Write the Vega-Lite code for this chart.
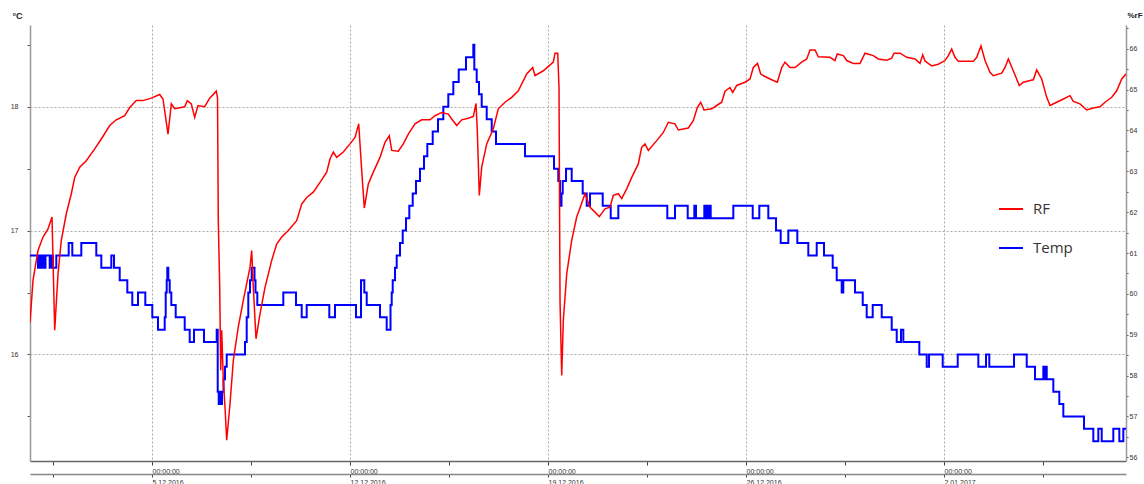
{
"$schema": "https://vega.github.io/schema/vega-lite/v6.json",
"width": 1096, "height": 436,
"autosize": {"type": "none"},
"padding": {"left": 30, "top": 25, "right": 18, "bottom": 23},
"background": "white",
"config": {"view": {"stroke": null}, "font": "Liberation Sans"},
"datasets": {
"temp": [
{"t":"2016-11-30T16:30:00Z","v":16.8},{"t":"2016-11-30T23:16:00Z","v":16.7},{"t":"2016-12-01T00:58:00Z","v":16.8},{"t":"2016-12-01T01:49:00Z","v":16.7},{"t":"2016-12-01T03:31:00Z","v":16.8},{"t":"2016-12-01T04:22:00Z","v":16.7},{"t":"2016-12-01T05:38:00Z","v":16.8},{"t":"2016-12-01T09:12:00Z","v":16.7},{"t":"2016-12-01T10:34:00Z","v":16.8},{"t":"2016-12-01T12:00:00Z","v":16.7},{"t":"2016-12-01T14:48:00Z","v":16.8},{"t":"2016-12-02T01:19:00Z","v":16.9},{"t":"2016-12-02T04:23:00Z","v":16.8},{"t":"2016-12-02T12:01:00Z","v":16.9},{"t":"2016-12-03T00:44:00Z","v":16.8},{"t":"2016-12-03T04:59:00Z","v":16.7},{"t":"2016-12-03T13:28:00Z","v":16.8},{"t":"2016-12-03T15:46:00Z","v":16.7},{"t":"2016-12-03T20:36:00Z","v":16.6},{"t":"2016-12-04T03:03:00Z","v":16.5},{"t":"2016-12-04T07:17:00Z","v":16.4},{"t":"2016-12-04T12:07:00Z","v":16.5},{"t":"2016-12-04T18:19:00Z","v":16.4},{"t":"2016-12-05T00:15:00Z","v":16.3},{"t":"2016-12-05T05:05:00Z","v":16.2},{"t":"2016-12-05T10:46:00Z","v":16.3},{"t":"2016-12-05T11:37:00Z","v":16.5},{"t":"2016-12-05T12:28:00Z","v":16.6},{"t":"2016-12-05T12:59:00Z","v":16.7},{"t":"2016-12-05T13:50:00Z","v":16.6},{"t":"2016-12-05T15:01:00Z","v":16.5},{"t":"2016-12-05T16:23:00Z","v":16.4},{"t":"2016-12-05T20:06:00Z","v":16.3},{"t":"2016-12-06T03:45:00Z","v":16.2},{"t":"2016-12-06T07:59:00Z","v":16.1},{"t":"2016-12-06T11:38:00Z","v":16.2},{"t":"2016-12-06T20:07:00Z","v":16.1},{"t":"2016-12-07T06:54:00Z","v":16.2},{"t":"2016-12-07T07:45:00Z","v":15.7},{"t":"2016-12-07T08:36:00Z","v":15.6},{"t":"2016-12-07T09:42:00Z","v":15.7},{"t":"2016-12-07T10:33:00Z","v":15.6},{"t":"2016-12-07T11:24:00Z","v":15.7},{"t":"2016-12-07T12:40:00Z","v":15.8},{"t":"2016-12-07T13:56:00Z","v":15.9},{"t":"2016-12-07T15:23:00Z","v":16.0},{"t":"2016-12-08T06:54:00Z","v":16.1},{"t":"2016-12-08T08:21:00Z","v":16.3},{"t":"2016-12-08T09:42:00Z","v":16.5},{"t":"2016-12-08T11:09:00Z","v":16.6},{"t":"2016-12-08T12:36:00Z","v":16.7},{"t":"2016-12-08T14:58:00Z","v":16.6},{"t":"2016-12-08T15:49:00Z","v":16.5},{"t":"2016-12-08T17:21:00Z","v":16.4},{"t":"2016-12-09T15:24:00Z","v":16.5},{"t":"2016-12-10T02:11:00Z","v":16.4},{"t":"2016-12-10T07:01:00Z","v":16.3},{"t":"2016-12-10T11:15:00Z","v":16.4},{"t":"2016-12-11T06:26:00Z","v":16.3},{"t":"2016-12-11T11:16:00Z","v":16.4},{"t":"2016-12-12T05:05:00Z","v":16.3},{"t":"2016-12-12T09:20:00Z","v":16.6},{"t":"2016-12-12T12:08:00Z","v":16.5},{"t":"2016-12-12T14:10:00Z","v":16.4},{"t":"2016-12-13T01:27:00Z","v":16.3},{"t":"2016-12-13T07:08:00Z","v":16.2},{"t":"2016-12-13T10:22:00Z","v":16.4},{"t":"2016-12-13T11:23:00Z","v":16.5},{"t":"2016-12-13T12:14:00Z","v":16.6},{"t":"2016-12-13T14:11:00Z","v":16.7},{"t":"2016-12-13T15:37:00Z","v":16.8},{"t":"2016-12-13T18:25:00Z","v":16.9},{"t":"2016-12-13T20:43:00Z","v":17.0},{"t":"2016-12-13T23:31:00Z","v":17.1},{"t":"2016-12-14T02:19:00Z","v":17.2},{"t":"2016-12-14T05:12:00Z","v":17.3},{"t":"2016-12-14T08:00:00Z","v":17.4},{"t":"2016-12-14T11:23:00Z","v":17.5},{"t":"2016-12-14T14:47:00Z","v":17.6},{"t":"2016-12-14T17:35:00Z","v":17.7},{"t":"2016-12-14T22:10:00Z","v":17.8},{"t":"2016-12-15T02:40:00Z","v":17.9},{"t":"2016-12-15T07:10:00Z","v":18.0},{"t":"2016-12-15T11:24:00Z","v":18.1},{"t":"2016-12-15T15:39:00Z","v":18.2},{"t":"2016-12-15T20:14:00Z","v":18.3},{"t":"2016-12-16T02:25:00Z","v":18.4},{"t":"2016-12-16T08:37:00Z","v":18.5},{"t":"2016-12-16T09:28:00Z","v":18.3},{"t":"2016-12-16T11:30:00Z","v":18.2},{"t":"2016-12-16T13:27:00Z","v":18.1},{"t":"2016-12-16T15:44:00Z","v":18.0},{"t":"2016-12-16T19:59:00Z","v":17.9},{"t":"2016-12-17T00:14:00Z","v":17.8},{"t":"2016-12-17T03:52:00Z","v":17.7},{"t":"2016-12-18T04:29:00Z","v":17.6},{"t":"2016-12-19T05:05:00Z","v":17.5},{"t":"2016-12-19T08:44:00Z","v":17.4},{"t":"2016-12-19T10:11:00Z","v":17.2},{"t":"2016-12-19T11:27:00Z","v":17.3},{"t":"2016-12-19T12:28:00Z","v":17.4},{"t":"2016-12-19T15:16:00Z","v":17.5},{"t":"2016-12-19T20:06:00Z","v":17.4},{"t":"2016-12-20T05:26:00Z","v":17.3},{"t":"2016-12-20T08:50:00Z","v":17.2},{"t":"2016-12-20T11:38:00Z","v":17.3},{"t":"2016-12-20T22:24:00Z","v":17.2},{"t":"2016-12-21T05:12:00Z","v":17.1},{"t":"2016-12-21T11:39:00Z","v":17.2},{"t":"2016-12-23T05:13:00Z","v":17.1},{"t":"2016-12-23T11:45:00Z","v":17.2},{"t":"2016-12-23T22:32:00Z","v":17.1},{"t":"2016-12-24T04:08:00Z","v":17.2},{"t":"2016-12-24T05:34:00Z","v":17.1},{"t":"2016-12-24T12:37:00Z","v":17.2},{"t":"2016-12-24T13:38:00Z","v":17.1},{"t":"2016-12-24T14:29:00Z","v":17.2},{"t":"2016-12-24T15:45:00Z","v":17.1},{"t":"2016-12-24T16:36:00Z","v":17.2},{"t":"2016-12-24T18:02:00Z","v":17.1},{"t":"2016-12-25T13:13:00Z","v":17.2},{"t":"2016-12-26T05:41:00Z","v":17.1},{"t":"2016-12-26T11:17:00Z","v":17.2},{"t":"2016-12-26T18:55:00Z","v":17.1},{"t":"2016-12-27T01:27:00Z","v":17.0},{"t":"2016-12-27T05:26:00Z","v":16.9},{"t":"2016-12-27T11:53:00Z","v":17.0},{"t":"2016-12-27T19:31:00Z","v":16.9},{"t":"2016-12-28T04:51:00Z","v":16.8},{"t":"2016-12-28T11:59:00Z","v":16.9},{"t":"2016-12-28T18:10:00Z","v":16.8},{"t":"2016-12-29T01:33:00Z","v":16.7},{"t":"2016-12-29T04:57:00Z","v":16.6},{"t":"2016-12-29T09:11:00Z","v":16.5},{"t":"2016-12-29T10:33:00Z","v":16.6},{"t":"2016-12-29T20:29:00Z","v":16.5},{"t":"2016-12-30T03:01:00Z","v":16.4},{"t":"2016-12-30T06:24:00Z","v":16.3},{"t":"2016-12-30T11:30:00Z","v":16.4},{"t":"2016-12-30T19:08:00Z","v":16.3},{"t":"2016-12-31T03:37:00Z","v":16.2},{"t":"2016-12-31T07:52:00Z","v":16.1},{"t":"2016-12-31T11:30:00Z","v":16.2},{"t":"2016-12-31T13:28:00Z","v":16.1},{"t":"2017-01-01T03:02:00Z","v":16.0},{"t":"2017-01-01T09:19:00Z","v":15.9},{"t":"2017-01-01T11:16:00Z","v":16.0},{"t":"2017-01-01T22:53:00Z","v":15.9},{"t":"2017-01-02T11:37:00Z","v":16.0},{"t":"2017-01-03T05:06:00Z","v":15.9},{"t":"2017-01-03T11:38:00Z","v":16.0},{"t":"2017-01-03T14:25:00Z","v":15.9},{"t":"2017-01-04T11:23:00Z","v":16.0},{"t":"2017-01-04T22:10:00Z","v":15.9},{"t":"2017-01-05T05:12:00Z","v":15.8},{"t":"2017-01-05T12:15:00Z","v":15.9},{"t":"2017-01-05T13:16:00Z","v":15.8},{"t":"2017-01-05T14:07:00Z","v":15.9},{"t":"2017-01-05T15:08:00Z","v":15.8},{"t":"2017-01-05T20:44:00Z","v":15.7},{"t":"2017-01-06T01:49:00Z","v":15.6},{"t":"2017-01-06T05:13:00Z","v":15.5},{"t":"2017-01-06T22:47:00Z","v":15.4},{"t":"2017-01-07T06:40:00Z","v":15.3},{"t":"2017-01-07T10:55:00Z","v":15.4},{"t":"2017-01-07T13:48:00Z","v":15.3},{"t":"2017-01-07T23:38:00Z","v":15.4},{"t":"2017-01-08T04:44:00Z","v":15.3},{"t":"2017-01-08T08:07:00Z","v":15.4},{"t":"2017-01-08T10:24:00Z","v":15.4}
],
"rf": [
{"t":"2016-11-30T16:30:00Z","v":59.3},{"t":"2016-11-30T19:02:00Z","v":60.33},{"t":"2016-11-30T23:16:00Z","v":61.06},{"t":"2016-12-01T03:31:00Z","v":61.39},{"t":"2016-12-01T07:46:00Z","v":61.59},{"t":"2016-12-01T11:09:00Z","v":61.88},{"t":"2016-12-01T13:27:00Z","v":59.11},{"t":"2016-12-01T16:15:00Z","v":60.49},{"t":"2016-12-01T19:02:00Z","v":61.31},{"t":"2016-12-01T23:17:00Z","v":61.96},{"t":"2016-12-02T03:32:00Z","v":62.45},{"t":"2016-12-02T06:25:00Z","v":62.85},{"t":"2016-12-02T10:39:00Z","v":63.1},{"t":"2016-12-02T16:15:00Z","v":63.26},{"t":"2016-12-02T23:23:00Z","v":63.55},{"t":"2016-12-03T04:59:00Z","v":63.79},{"t":"2016-12-03T12:07:00Z","v":64.12},{"t":"2016-12-03T17:42:00Z","v":64.26},{"t":"2016-12-04T00:50:00Z","v":64.36},{"t":"2016-12-04T05:05:00Z","v":64.56},{"t":"2016-12-04T10:41:00Z","v":64.73},{"t":"2016-12-04T16:22:00Z","v":64.73},{"t":"2016-12-04T23:24:00Z","v":64.79},{"t":"2016-12-05T06:32:00Z","v":64.88},{"t":"2016-12-05T09:20:00Z","v":64.77},{"t":"2016-12-05T13:34:00Z","v":63.91},{"t":"2016-12-05T16:23:00Z","v":64.65},{"t":"2016-12-05T19:16:00Z","v":64.53},{"t":"2016-12-06T03:45:00Z","v":64.58},{"t":"2016-12-06T05:57:00Z","v":64.73},{"t":"2016-12-06T09:21:00Z","v":64.65},{"t":"2016-12-06T12:14:00Z","v":64.32},{"t":"2016-12-06T15:02:00Z","v":64.61},{"t":"2016-12-06T20:43:00Z","v":64.58},{"t":"2016-12-07T00:57:00Z","v":64.79},{"t":"2016-12-07T06:33:00Z","v":64.96},{"t":"2016-12-07T07:35:00Z","v":64.8},{"t":"2016-12-07T08:15:00Z","v":61.79},{"t":"2016-12-07T09:27:00Z","v":60.16},{"t":"2016-12-07T10:17:00Z","v":58.13},{"t":"2016-12-07T11:08:00Z","v":59.11},{"t":"2016-12-07T12:30:00Z","v":57.88},{"t":"2016-12-07T13:56:00Z","v":57.23},{"t":"2016-12-07T15:23:00Z","v":56.42},{"t":"2016-12-07T18:11:00Z","v":57.31},{"t":"2016-12-07T20:59:00Z","v":58.37},{"t":"2016-12-08T01:13:00Z","v":59.19},{"t":"2016-12-08T05:28:00Z","v":59.84},{"t":"2016-12-08T08:21:00Z","v":60.25},{"t":"2016-12-08T11:09:00Z","v":60.65},{"t":"2016-12-08T12:36:00Z","v":61.06},{"t":"2016-12-08T13:57:00Z","v":60.16},{"t":"2016-12-08T16:15:00Z","v":58.9},{"t":"2016-12-08T19:38:00Z","v":59.51},{"t":"2016-12-08T23:53:00Z","v":60.16},{"t":"2016-12-09T05:34:00Z","v":60.82},{"t":"2016-12-09T09:48:00Z","v":61.22},{"t":"2016-12-09T14:03:00Z","v":61.39},{"t":"2016-12-09T19:39:00Z","v":61.55},{"t":"2016-12-10T02:46:00Z","v":61.79},{"t":"2016-12-10T07:01:00Z","v":62.2},{"t":"2016-12-10T11:15:00Z","v":62.36},{"t":"2016-12-10T16:52:00Z","v":62.49},{"t":"2016-12-10T22:33:00Z","v":62.73},{"t":"2016-12-11T04:14:00Z","v":62.98},{"t":"2016-12-11T07:02:00Z","v":63.3},{"t":"2016-12-11T09:50:00Z","v":63.47},{"t":"2016-12-11T12:43:00Z","v":63.34},{"t":"2016-12-11T18:19:00Z","v":63.47},{"t":"2016-12-12T00:00:00Z","v":63.67},{"t":"2016-12-12T04:14:00Z","v":63.83},{"t":"2016-12-12T07:23:00Z","v":64.16},{"t":"2016-12-12T09:55:00Z","v":63.02},{"t":"2016-12-12T12:08:00Z","v":62.1},{"t":"2016-12-12T15:32:00Z","v":62.69},{"t":"2016-12-12T19:46:00Z","v":62.98},{"t":"2016-12-13T01:27:00Z","v":63.34},{"t":"2016-12-13T05:42:00Z","v":63.71},{"t":"2016-12-13T09:20:00Z","v":63.87},{"t":"2016-12-13T11:23:00Z","v":63.51},{"t":"2016-12-13T16:59:00Z","v":63.49},{"t":"2016-12-13T21:13:00Z","v":63.67},{"t":"2016-12-14T01:28:00Z","v":63.91},{"t":"2016-12-14T07:09:00Z","v":64.16},{"t":"2016-12-14T12:50:00Z","v":64.26},{"t":"2016-12-14T19:53:00Z","v":64.26},{"t":"2016-12-15T00:07:00Z","v":64.36},{"t":"2016-12-15T05:48:00Z","v":64.44},{"t":"2016-12-15T11:24:00Z","v":64.4},{"t":"2016-12-15T14:17:00Z","v":64.28},{"t":"2016-12-15T18:32:00Z","v":64.12},{"t":"2016-12-15T22:46:00Z","v":64.26},{"t":"2016-12-16T04:22:00Z","v":64.3},{"t":"2016-12-16T08:37:00Z","v":64.34},{"t":"2016-12-16T10:54:00Z","v":64.66},{"t":"2016-12-16T12:00:00Z","v":64.0},{"t":"2016-12-16T13:42:00Z","v":62.41},{"t":"2016-12-16T15:44:00Z","v":63.1},{"t":"2016-12-16T19:59:00Z","v":63.67},{"t":"2016-12-17T01:35:00Z","v":64.04},{"t":"2016-12-17T05:49:00Z","v":64.53},{"t":"2016-12-17T11:31:00Z","v":64.69},{"t":"2016-12-17T17:12:00Z","v":64.81},{"t":"2016-12-17T22:48:00Z","v":64.97},{"t":"2016-12-18T05:55:00Z","v":65.38},{"t":"2016-12-18T11:01:00Z","v":65.54},{"t":"2016-12-18T12:58:00Z","v":65.34},{"t":"2016-12-18T20:01:00Z","v":65.46},{"t":"2016-12-19T04:30:00Z","v":65.67},{"t":"2016-12-19T05:56:00Z","v":65.89},{"t":"2016-12-19T08:14:00Z","v":65.89},{"t":"2016-12-19T09:20:00Z","v":65.05},{"t":"2016-12-19T10:11:00Z","v":59.84},{"t":"2016-12-19T11:37:00Z","v":58.0},{"t":"2016-12-19T12:59:00Z","v":59.35},{"t":"2016-12-19T15:52:00Z","v":60.49},{"t":"2016-12-19T20:06:00Z","v":61.31},{"t":"2016-12-20T00:20:00Z","v":61.88},{"t":"2016-12-20T03:08:00Z","v":62.1},{"t":"2016-12-20T07:23:00Z","v":62.45},{"t":"2016-12-20T11:38:00Z","v":62.12},{"t":"2016-12-20T15:52:00Z","v":62.0},{"t":"2016-12-20T19:31:00Z","v":61.89},{"t":"2016-12-21T00:21:00Z","v":62.08},{"t":"2016-12-21T04:36:00Z","v":62.12},{"t":"2016-12-21T07:24:00Z","v":62.41},{"t":"2016-12-21T11:39:00Z","v":62.45},{"t":"2016-12-21T14:32:00Z","v":62.33},{"t":"2016-12-21T18:46:00Z","v":62.57},{"t":"2016-12-21T23:01:00Z","v":62.85},{"t":"2016-12-22T04:37:00Z","v":63.18},{"t":"2016-12-22T07:30:00Z","v":63.59},{"t":"2016-12-22T10:18:00Z","v":63.67},{"t":"2016-12-22T13:06:00Z","v":63.51},{"t":"2016-12-22T20:14:00Z","v":63.75},{"t":"2016-12-23T01:50:00Z","v":63.95},{"t":"2016-12-23T06:04:00Z","v":64.2},{"t":"2016-12-23T11:45:00Z","v":64.16},{"t":"2016-12-23T14:33:00Z","v":64.01},{"t":"2016-12-23T23:02:00Z","v":64.06},{"t":"2016-12-24T03:17:00Z","v":64.24},{"t":"2016-12-24T06:40:00Z","v":64.56},{"t":"2016-12-24T09:33:00Z","v":64.69},{"t":"2016-12-24T12:21:00Z","v":64.5},{"t":"2016-12-24T18:53:00Z","v":64.53},{"t":"2016-12-24T23:08:00Z","v":64.61},{"t":"2016-12-25T03:22:00Z","v":64.69},{"t":"2016-12-25T06:10:00Z","v":64.96},{"t":"2016-12-25T10:25:00Z","v":65.05},{"t":"2016-12-25T12:42:00Z","v":64.93},{"t":"2016-12-25T16:06:00Z","v":65.1},{"t":"2016-12-25T23:09:00Z","v":65.18},{"t":"2016-12-26T03:23:00Z","v":65.26},{"t":"2016-12-26T06:11:00Z","v":65.54},{"t":"2016-12-26T09:45:00Z","v":65.64},{"t":"2016-12-26T12:28:00Z","v":65.38},{"t":"2016-12-26T16:07:00Z","v":65.32},{"t":"2016-12-26T21:48:00Z","v":65.24},{"t":"2016-12-27T02:33:00Z","v":65.18},{"t":"2016-12-27T06:17:00Z","v":65.54},{"t":"2016-12-27T09:05:00Z","v":65.67},{"t":"2016-12-27T13:19:00Z","v":65.54},{"t":"2016-12-27T17:34:00Z","v":65.54},{"t":"2016-12-27T23:15:00Z","v":65.67},{"t":"2016-12-28T03:30:00Z","v":65.75},{"t":"2016-12-28T06:18:00Z","v":65.97},{"t":"2016-12-28T10:32:00Z","v":65.97},{"t":"2016-12-28T13:20:00Z","v":65.8},{"t":"2016-12-28T23:16:00Z","v":65.79},{"t":"2016-12-29T03:30:00Z","v":65.71},{"t":"2016-12-29T05:27:00Z","v":65.87},{"t":"2016-12-29T10:33:00Z","v":65.83},{"t":"2016-12-29T13:26:00Z","v":65.71},{"t":"2016-12-29T19:02:00Z","v":65.64},{"t":"2016-12-30T00:43:00Z","v":65.64},{"t":"2016-12-30T04:58:00Z","v":65.89},{"t":"2016-12-30T12:00:00Z","v":65.83},{"t":"2016-12-30T16:15:00Z","v":65.75},{"t":"2016-12-30T23:23:00Z","v":65.72},{"t":"2016-12-31T03:37:00Z","v":65.77},{"t":"2016-12-31T05:34:00Z","v":65.89},{"t":"2016-12-31T10:39:00Z","v":65.89},{"t":"2016-12-31T16:21:00Z","v":65.79},{"t":"2016-12-31T23:23:00Z","v":65.75},{"t":"2017-01-01T03:38:00Z","v":65.64},{"t":"2017-01-01T05:55:00Z","v":65.85},{"t":"2017-01-01T07:52:00Z","v":65.7},{"t":"2017-01-01T11:31:00Z","v":65.62},{"t":"2017-01-01T13:33:00Z","v":65.58},{"t":"2017-01-01T19:09:00Z","v":65.62},{"t":"2017-01-02T00:50:00Z","v":65.71},{"t":"2017-01-02T03:38:00Z","v":65.83},{"t":"2017-01-02T06:31:00Z","v":65.99},{"t":"2017-01-02T09:19:00Z","v":65.79},{"t":"2017-01-02T12:07:00Z","v":65.69},{"t":"2017-01-03T00:51:00Z","v":65.69},{"t":"2017-01-03T03:44:00Z","v":65.79},{"t":"2017-01-03T07:22:00Z","v":66.07},{"t":"2017-01-03T10:47:00Z","v":65.71},{"t":"2017-01-03T15:01:00Z","v":65.42},{"t":"2017-01-03T17:49:00Z","v":65.34},{"t":"2017-01-04T00:57:00Z","v":65.4},{"t":"2017-01-04T03:45:00Z","v":65.54},{"t":"2017-01-04T06:33:00Z","v":65.75},{"t":"2017-01-04T10:47:00Z","v":65.46},{"t":"2017-01-04T15:53:00Z","v":65.1},{"t":"2017-01-04T19:16:00Z","v":65.18},{"t":"2017-01-05T00:57:00Z","v":65.22},{"t":"2017-01-05T03:45:00Z","v":65.24},{"t":"2017-01-05T06:38:00Z","v":65.48},{"t":"2017-01-05T10:53:00Z","v":65.26},{"t":"2017-01-05T15:08:00Z","v":64.81},{"t":"2017-01-05T17:56:00Z","v":64.61},{"t":"2017-01-05T23:37:00Z","v":64.69},{"t":"2017-01-06T05:13:00Z","v":64.77},{"t":"2017-01-06T10:54:00Z","v":64.85},{"t":"2017-01-06T13:42:00Z","v":64.71},{"t":"2017-01-06T19:23:00Z","v":64.65},{"t":"2017-01-07T01:04:00Z","v":64.5},{"t":"2017-01-07T06:40:00Z","v":64.55},{"t":"2017-01-07T12:21:00Z","v":64.58},{"t":"2017-01-07T16:36:00Z","v":64.69},{"t":"2017-01-07T22:17:00Z","v":64.81},{"t":"2017-01-08T02:31:00Z","v":64.97},{"t":"2017-01-08T06:46:00Z","v":65.26},{"t":"2017-01-08T10:24:00Z","v":65.38}
]
},
"layer": [
{
"data": {"name": "temp"},
"mark": {"type": "line", "interpolate": "step-after", "strokeWidth": 2, "clip": true},
"encoding": {
"x": {"field": "t", "type": "temporal",
"scale": {"type": "utc", "domain": [{"year": 2016, "month": 11, "date": 30, "hours": 16, "minutes": 29, "utc": true}, {"year": 2017, "month": 1, "date": 8, "hours": 10, "minutes": 24, "utc": true}]},
"axis": {"orient": "bottom", "title": null,
"values": [{"year":2016,"month":12,"date":1,"hours":12,"utc":true},{"year":2016,"month":12,"date":5,"utc":true},{"year":2016,"month":12,"date":8,"hours":12,"utc":true},{"year":2016,"month":12,"date":12,"utc":true},{"year":2016,"month":12,"date":15,"hours":12,"utc":true},{"year":2016,"month":12,"date":19,"utc":true},{"year":2016,"month":12,"date":22,"hours":12,"utc":true},{"year":2016,"month":12,"date":26,"utc":true},{"year":2016,"month":12,"date":29,"hours":12,"utc":true},{"year":2017,"month":1,"date":2,"utc":true},{"year":2017,"month":1,"date":5,"hours":12,"utc":true}],
"labelExpr": "utchours(datum.value) == 0 ? '00:00:00' : ''",
"grid": true,
"gridOpacity": {"condition": {"test": "utchours(datum.value) == 0", "value": 1}, "value": 0},
"gridDash": [2, 2], "gridColor": "#aaaaaa", "gridWidth": 1,
"domainColor": "#666666", "domainWidth": 1.5,
"tickColor": "#444444", "tickSize": 4,
"labelAlign": "left", "labelPadding": 2, "labelFontSize": 7, "labelColor": "#333333",
"labelFlush": false, "labelOverlap": false}},
"y": {"field": "v", "type": "quantitative",
"scale": {"domain": [15.14, 18.66], "nice": false, "zero": false},
"axis": {"orient": "left", "values": [15.5, 16, 16.5, 17, 17.5, 18, 18.5],
"labelExpr": "datum.value % 1 == 0 ? format(datum.value, 'd') : ''",
"grid": true,
"gridOpacity": {"condition": {"test": "datum.value % 1 == 0", "value": 1}, "value": 0},
"gridDash": [2, 2], "gridColor": "#aaaaaa",
"title": "°C", "titleAngle": 0, "titleX": -18, "titleY": -10, "titleAlign": "left", "titleBaseline": "middle",
"titleFontSize": 9, "titleFontWeight": "bold", "titleColor": "#222222",
"domainColor": "#999999", "domainWidth": 1.5, "tickColor": "#555555", "tickSize": 3,
"labelPadding": 9, "labelFontSize": 7, "labelColor": "#333333"}},
"color": {"datum": "Temp", "type": "nominal",
"scale": {"domain": ["RF", "Temp"], "range": ["#ff0000", "#0000ff"]},
"legend": {"orient": "none", "legendX": 968, "legendY": 171, "title": null, "symbolType": "stroke", "symbolSize": 576, "symbolStrokeWidth": 2,
"labelFontSize": 15, "labelFont": "Open Sans", "labelColor": "#333333", "labelOffset": 9, "rowPadding": 18, "padding": 0}}
}
},
{
"data": {"name": "rf"},
"mark": {"type": "line", "strokeWidth": 1.5, "clip": true},
"encoding": {
"x": {"field": "t", "type": "temporal",
"scale": {"type": "utc", "domain": [{"year": 2016, "month": 11, "date": 30, "hours": 16, "minutes": 29, "utc": true}, {"year": 2017, "month": 1, "date": 8, "hours": 10, "minutes": 24, "utc": true}]},
"axis": {"orient": "bottom", "offset": 13, "title": null,
"values": [{"year":2016,"month":12,"date":1,"hours":12,"utc":true},{"year":2016,"month":12,"date":5,"utc":true},{"year":2016,"month":12,"date":8,"hours":12,"utc":true},{"year":2016,"month":12,"date":12,"utc":true},{"year":2016,"month":12,"date":15,"hours":12,"utc":true},{"year":2016,"month":12,"date":19,"utc":true},{"year":2016,"month":12,"date":22,"hours":12,"utc":true},{"year":2016,"month":12,"date":26,"utc":true},{"year":2016,"month":12,"date":29,"hours":12,"utc":true},{"year":2017,"month":1,"date":2,"utc":true},{"year":2017,"month":1,"date":5,"hours":12,"utc":true}],
"labelExpr": "utchours(datum.value) == 0 ? utcFormat(datum.value, '%-d.%m.%Y') : ''",
"grid": false,
"domainColor": "#888888", "domainWidth": 1.5,
"tickColor": "#444444", "tickSize": 3,
"labelAlign": "left", "labelPadding": 1, "labelFontSize": 7, "labelColor": "#333333",
"labelFlush": false, "labelOverlap": false}},
"y": {"field": "v", "type": "quantitative",
"scale": {"domain": [55.91, 66.58], "nice": false, "zero": false},
"axis": {"orient": "right", "values": [56, 56.5, 57, 57.5, 58, 58.5, 59, 59.5, 60, 60.5, 61, 61.5, 62, 62.5, 63, 63.5, 64, 64.5, 65, 65.5, 66, 66.5],
"labelExpr": "datum.value % 1 == 0 ? format(datum.value, 'd') : ''",
"grid": false,
"title": "%rF", "titleAngle": 0, "titleX": 1, "titleY": -10, "titleAlign": "left", "titleBaseline": "middle",
"titleFontSize": 8, "titleFontWeight": "bold", "titleColor": "#222222",
"domainColor": "#999999", "domainWidth": 1.5, "tickColor": "#555555", "tickSize": 2,
"labelPadding": 1, "labelFontSize": 7, "labelColor": "#333333"}},
"color": {"datum": "RF", "type": "nominal"}
}
}
],
"resolve": {"scale": {"x": "independent", "y": "independent"}, "axis": {"x": "independent", "y": "independent"}}
}
